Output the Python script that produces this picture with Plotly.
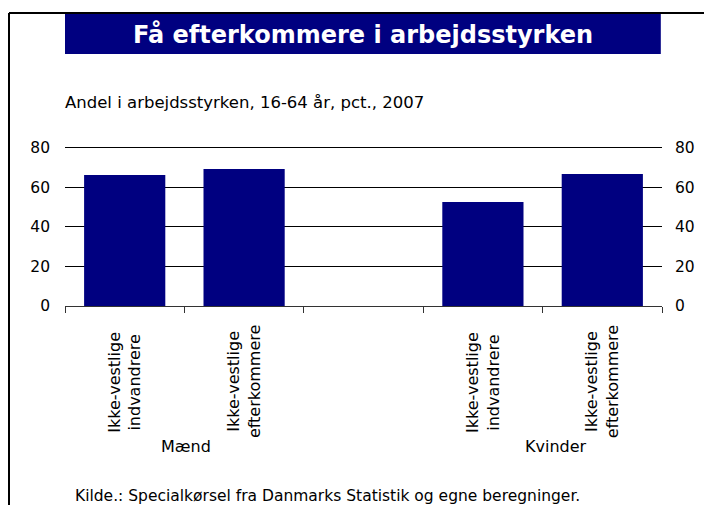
import plotly.graph_objects as go

# data
positions = [0, 1, 2, 3, 4]
labels = ["Ikke-vestlige<br>indvandrere", "Ikke-vestlige<br>efterkommere", "",
          "Ikke-vestlige<br>indvandrere", "Ikke-vestlige<br>efterkommere"]
values = [66.3, 69.4, None, 52.7, 66.8]
groups = ["Mænd", "Kvinder"]
group_pos = [0.51, 3.61]
y_ticks = [0, 20, 40, 60, 80]

navy = "#000080"
font = "DejaVu Sans"

fig = go.Figure()
fig.add_trace(go.Bar(x=positions, y=values, marker=dict(color=navy, line=dict(width=0)),
                     showlegend=False, hoverinfo="skip"))
# invisible copy so the right-hand axis is drawn
fig.add_trace(go.Scatter(x=positions, y=values, yaxis="y2", mode="markers",
                         marker=dict(opacity=0), showlegend=False, hoverinfo="skip"))

# page has an 8px body margin, so the figure is 8px smaller than the window
# y range goes a bit past 80 so the top gridline isn't dropped at the edge
fig.update_layout(
    width=704, height=497,
    margin=dict(l=57, r=50, t=138, b=199),
    paper_bgcolor="white", plot_bgcolor="white",
    font=dict(family=font, size=15.5, color="black"),
    bargap=0.32,
    xaxis=dict(range=[-0.5, 4.5], tickvals=positions, showticklabels=False,
               ticks="", showgrid=False, zeroline=False,
               showline=True, linecolor="#333", linewidth=1,
               minor=dict(tickvals=[p - 0.5 for p in positions] + [4.5],
                          ticks="outside", ticklen=6, tickcolor="#333", showgrid=False)),
    yaxis=dict(range=[0, 81], tickvals=y_ticks, showgrid=True, gridcolor="black",
               gridwidth=1, zeroline=False, showline=False, ticks="",
               ticklabelstandoff=14),
    yaxis2=dict(range=[0, 81], tickvals=y_ticks, overlaying="y", side="right",
                showgrid=False, zeroline=False, showline=False, ticks="",
                ticklabelstandoff=12),
)

# category labels, rotated and centred under each bar
for p, lab in zip(positions, labels):
    if lab:
        fig.add_annotation(x=p, y=-0.475, xref="x", yref="paper", text=lab, textangle=-90,
                           align="center", showarrow=False, font=dict(size=16),
                           xanchor="center", yanchor="middle")

for g, p in zip(groups, group_pos):
    fig.add_annotation(x=p, y=-0.875, xref="x", yref="paper", text=g, showarrow=False,
                       font=dict(size=16), xanchor="center", yanchor="middle")

# title box and frame
fig.add_shape(type="rect", xref="paper", yref="paper", x0=0, x1=0.998,
              y0=1.575, y1=1.825, fillcolor=navy, line=dict(width=0), layer="below")
fig.add_annotation(x=0.499, y=1.697, xref="paper", yref="paper",
                   text="<b>Få efterkommere i arbejdsstyrken</b>", showarrow=False,
                   font=dict(size=24, color="white"), xanchor="center", yanchor="middle")
fig.add_annotation(x=-0.0034, y=1.275, xref="paper", yref="paper",
                   text="Andel i arbejdsstyrken, 16-64 år, pct., 2007", showarrow=False,
                   font=dict(size=16.5), xanchor="left", yanchor="middle")
fig.add_annotation(x=0.013, y=-1.19, xref="paper", yref="paper",
                   text="Kilde.: Specialkørsel fra Danmarks Statistik og egne beregninger.",
                   showarrow=False, font=dict(size=15.5), xanchor="left", yanchor="middle")
fig.add_shape(type="line", xref="paper", yref="paper", x0=-0.0938, x1=-0.0938,
              y0=1.831, y1=-1.4, line=dict(color="black", width=2))
fig.add_shape(type="line", xref="paper", yref="paper", x0=-0.0938, x1=1.2,
              y0=1.831, y1=1.831, line=dict(color="black", width=2))

fig.write_html("out.html")
